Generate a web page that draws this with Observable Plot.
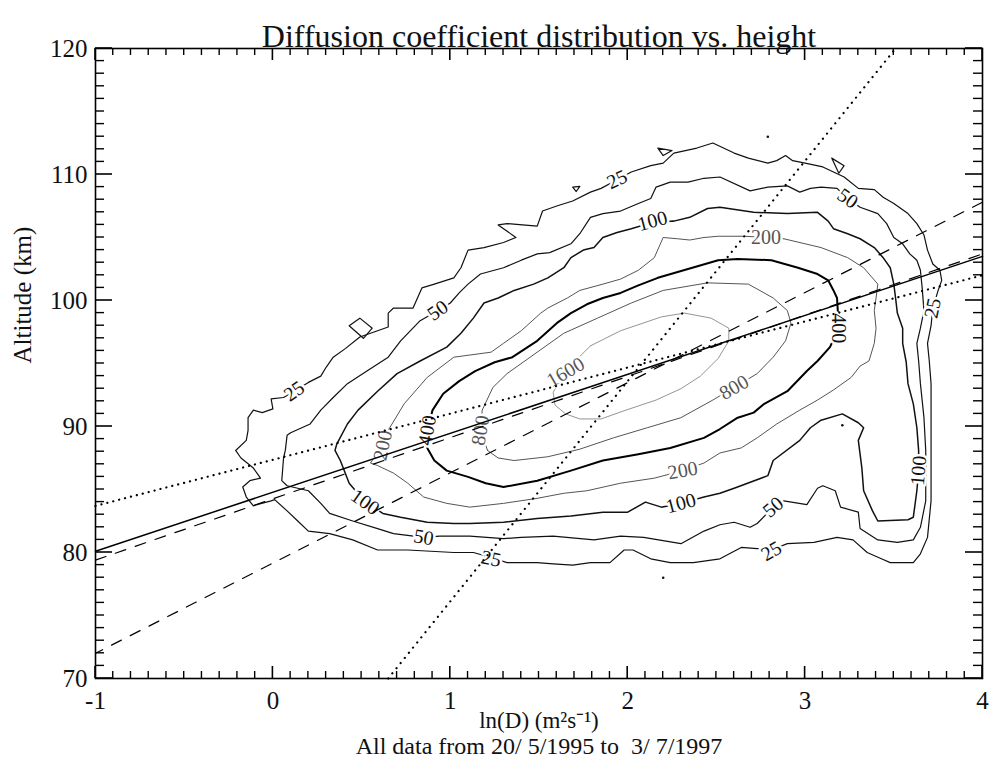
<!DOCTYPE html>
<html><head><meta charset="utf-8">
<script src="https://cdn.jsdelivr.net/npm/d3@7"></script>
<script src="https://cdn.jsdelivr.net/npm/@observablehq/plot@0.6"></script>
<style>body{margin:0;background:#fff}</style>
</head><body><div id="chart"></div>
<script>
// ---- axis ticks ----
const majorX = [-1, 0, 1, 2, 3, 4];
const majorY = [70, 80, 90, 100, 110, 120];
const minorX = d3.range(-10, 41).map(i => i / 10).filter(v => !majorX.includes(v));
const minorY = d3.range(70, 121).filter(v => !majorY.includes(v));

// ---- contour lines (x = ln D, y = altitude km) ----
const c25 = [[0.20,93.5],[0.27,94.0],[0.30,94.7],[0.34,95.5],[0.41,96.2],[0.49,97.1],[0.59,97.6],[0.65,97.9],[0.65,99.0],[0.68,99.4],[0.79,99.4],[0.84,101.0],[0.91,101.3],[1.02,101.8],[1.06,102.6],[1.10,104.0],[1.19,104.2],[1.30,104.6],[1.37,105.0],[1.27,106.0],[1.32,106.1],[1.49,105.9],[1.52,107.1],[1.60,107.5],[1.69,107.9],[1.79,108.6],[1.85,108.9],[1.93,109.5],[2.02,110.2],[2.13,110.7],[2.20,110.9],[2.26,111.7],[2.39,112.1],[2.48,112.5],[2.60,111.7],[2.68,111.3],[2.79,110.9],[2.84,111.1],[2.89,111.5],[2.93,111.1],[3.00,110.9],[3.10,110.6],[3.22,109.8],[3.30,108.9],[3.39,108.8],[3.44,108.2],[3.50,107.7],[3.58,106.9],[3.63,106.1],[3.67,105.2],[3.69,104.0],[3.72,102.9],[3.76,102.4],[3.77,101.6],[3.75,100.8],[3.72,99.4],[3.71,98.0],[3.69,96.6],[3.70,95.2],[3.71,93.4],[3.71,90.7],[3.71,88.1],[3.71,84.1],[3.69,81.2],[3.65,79.9],[3.61,79.2],[3.48,79.2],[3.43,79.5],[3.35,80.0],[3.27,81.0],[3.18,81.2],[3.05,80.8],[2.90,80.7],[2.81,80.2],[2.73,80.3],[2.64,80.4],[2.52,79.5],[2.37,79.2],[2.24,79.2],[2.13,79.5],[2.03,80.2],[1.98,80.2],[1.90,79.2],[1.79,79.2],[1.69,79.0],[1.58,79.1],[1.49,79.2],[1.32,79.2],[1.23,79.6],[1.13,80.0],[1.02,80.0],[0.76,80.2],[0.59,80.2],[0.45,81.0],[0.32,81.5],[0.20,81.7],[0.14,82.5],[0.08,83.3],[0.01,84.2],[-0.01,84.1],[-0.09,83.8],[-0.11,83.7],[-0.15,84.4],[-0.17,85.2],[-0.13,85.7],[-0.07,85.9],[-0.11,86.7],[-0.18,87.5],[-0.21,88.1],[-0.15,88.9],[-0.14,89.7],[-0.14,90.7],[-0.11,91.3],[-0.06,91.1],[0.00,91.4],[-0.01,92.2],[0.06,92.3],[0.12,92.8]];
const c25islands = [
  [[0.43,98.0],[0.49,98.6],[0.56,97.8],[0.51,97.0]],
  [[1.69,109.0],[1.73,109.05],[1.71,108.65]],
  [[2.17,112.1],[2.25,111.9],[2.20,111.5]],
  [[3.15,111.3],[3.22,110.7],[3.19,110.1]]
];
const c50 = [[1.00,99.8],[1.05,100.6],[1.10,101.3],[1.17,102.1],[1.30,102.6],[1.40,103.2],[1.49,103.7],[1.56,103.8],[1.68,104.5],[1.73,105.3],[1.79,106.6],[1.86,106.9],[1.96,107.1],[2.06,107.7],[2.13,108.1],[2.16,109.0],[2.24,109.4],[2.34,109.4],[2.43,109.7],[2.52,109.8],[2.69,108.7],[2.79,109.0],[2.90,109.1],[2.97,108.6],[3.03,108.9],[3.09,109.0],[3.18,108.9],[3.24,108.1],[3.31,107.4],[3.41,106.9],[3.46,106.1],[3.50,105.0],[3.55,104.5],[3.59,103.7],[3.63,103.2],[3.65,102.4],[3.66,101.0],[3.67,99.2],[3.65,97.8],[3.63,96.6],[3.64,95.2],[3.65,93.4],[3.67,90.7],[3.68,88.1],[3.68,84.1],[3.65,82.0],[3.61,81.0],[3.52,80.8],[3.41,81.0],[3.31,81.9],[3.30,83.2],[3.20,83.6],[3.17,84.9],[3.10,85.3],[3.07,85.1],[3.01,83.8],[2.88,84.1],[2.82,83.6],[2.73,82.3],[2.69,82.0],[2.60,82.4],[2.52,82.2],[2.43,81.7],[2.30,80.7],[2.09,81.2],[1.96,81.3],[1.81,81.0],[1.58,81.3],[1.40,81.2],[1.30,81.1],[1.11,81.3],[0.94,81.3],[0.85,81.2],[0.68,81.5],[0.59,81.9],[0.45,82.5],[0.32,83.1],[0.27,83.9],[0.20,84.9],[0.08,85.3],[0.05,85.7],[0.06,87.5],[0.07,88.1],[0.08,89.3],[0.10,89.5],[0.21,90.2],[0.27,91.3],[0.34,92.3],[0.42,93.4],[0.53,94.4],[0.65,95.5],[0.72,96.8],[0.83,98.4],[0.93,99.2]];
const c100 = [[2.26,106.3],[2.35,106.6],[2.45,107.3],[2.52,107.4],[2.71,107.0],[2.90,106.9],[3.07,107.0],[3.13,106.3],[3.16,105.7],[3.24,105.3],[3.31,104.9],[3.39,104.2],[3.44,103.4],[3.48,102.6],[3.50,101.3],[3.51,100.2],[3.52,99.0],[3.55,97.8],[3.55,96.6],[3.57,95.1],[3.58,93.4],[3.61,91.8],[3.63,89.9],[3.64,88.1],[3.64,86.5],[3.63,84.9],[3.61,82.8],[3.58,82.6],[3.41,82.5],[3.38,83.3],[3.33,84.9],[3.32,86.7],[3.30,88.9],[3.33,89.9],[3.30,90.3],[3.21,91.0],[3.09,90.5],[3.03,89.9],[2.97,88.9],[2.82,87.3],[2.79,86.1],[2.60,85.1],[2.52,84.7],[2.43,84.4],[2.30,83.9],[2.19,83.6],[2.10,84.0],[2.00,83.2],[1.86,83.2],[1.68,82.9],[1.49,82.7],[1.30,82.4],[1.11,82.3],[1.02,82.3],[0.87,82.4],[0.72,82.8],[0.62,83.1],[0.52,84.0],[0.43,85.5],[0.38,87.3],[0.35,88.1],[0.36,88.6],[0.42,90.2],[0.48,91.3],[0.59,92.8],[0.70,94.2],[0.83,95.2],[0.98,96.3],[1.06,97.4],[1.13,98.6],[1.19,99.8],[1.27,100.2],[1.36,100.8],[1.47,101.3],[1.55,101.8],[1.64,102.6],[1.68,103.4],[1.75,104.0],[1.81,104.2],[1.86,105.0],[1.94,105.4],[2.02,105.7],[2.14,106.2]];
const c200 = [[2.88,104.9],[3.09,104.2],[3.24,103.4],[3.33,102.6],[3.41,101.3],[3.40,100.2],[3.39,99.2],[3.40,97.8],[3.39,96.6],[3.36,95.2],[3.31,94.8],[3.26,93.9],[3.16,92.9],[3.07,92.1],[2.97,91.3],[2.84,90.2],[2.73,89.1],[2.64,88.3],[2.52,87.9],[2.43,87.1],[2.31,86.5],[2.15,85.9],[1.96,85.5],[1.77,84.9],[1.64,84.7],[1.49,84.3],[1.30,83.9],[1.11,83.6],[0.98,83.9],[0.85,84.4],[0.76,85.5],[0.68,86.3],[0.59,86.9],[0.55,87.1],[0.62,88.5],[0.65,89.7],[0.74,91.8],[0.87,93.9],[1.02,95.5],[1.23,95.9],[1.30,96.6],[1.40,97.6],[1.51,99.0],[1.55,99.4],[1.66,100.2],[1.73,100.8],[1.86,101.3],[1.96,101.7],[2.06,102.4],[2.15,103.4],[2.20,105.0],[2.28,104.9],[2.35,104.8],[2.43,105.0],[2.51,105.1],[2.66,105.1],[2.78,105.0]];
const c400 = [[0.87,88.3],[0.91,87.3],[0.98,86.5],[1.10,86.0],[1.20,85.5],[1.30,85.2],[1.49,85.7],[1.68,86.5],[1.86,87.3],[2.06,87.8],[2.24,88.3],[2.43,89.1],[2.52,89.8],[2.62,90.7],[2.71,91.1],[2.77,91.8],[2.90,92.8],[3.01,94.4],[3.07,95.2],[3.14,96.3],[3.19,97.8],[3.18,100.2],[3.16,100.8],[3.13,101.6],[3.07,102.1],[2.96,102.6],[2.81,103.2],[2.62,103.3],[2.51,103.2],[2.34,102.5],[2.17,101.8],[2.06,101.2],[1.96,100.6],[1.86,100.2],[1.77,99.7],[1.68,99.0],[1.60,98.2],[1.49,96.8],[1.35,95.5],[1.25,95.1],[1.14,94.4],[1.05,93.6],[0.96,92.6],[0.90,91.3],[0.87,89.7]];
const c800 = [[1.21,88.1],[1.27,87.5],[1.36,87.3],[1.55,87.6],[1.73,88.2],[1.92,89.1],[2.11,89.9],[2.30,90.7],[2.48,92.1],[2.60,93.1],[2.73,94.2],[2.82,95.5],[2.89,96.8],[2.92,98.2],[2.90,99.2],[2.82,100.2],[2.68,101.3],[2.45,101.4],[2.20,100.8],[2.02,99.8],[1.83,98.6],[1.64,97.4],[1.45,95.5],[1.32,94.2],[1.24,93.1],[1.18,91.3],[1.17,89.7]];
const c1600 = [[1.79,96.4],[1.96,97.6],[2.19,98.7],[2.32,99.0],[2.47,98.6],[2.57,97.8],[2.57,96.8],[2.51,95.4],[2.41,94.0],[2.30,93.0],[2.16,92.1],[1.99,91.3],[1.85,90.6],[1.73,90.6],[1.65,91.0],[1.59,91.7],[1.58,92.7],[1.64,94.3]];
const strayDots = [[2.79,113.0],[2.20,78.0],[3.21,90.1]];

// ---- contour labels: [text, x, y, angle] ----
const contourLabels = [
  ["25",0.12,92.8,-35],["25",1.94,109.6,-25],["25",3.72,99.4,-78],["25",2.81,80.1,-30],["25",1.23,79.5,12],
  ["50",0.93,99.2,-35],["50",3.24,108.1,35],["50",2.82,83.6,-40],["50",0.85,81.2,10],
  ["100",2.14,106.3,-15],["100",3.64,86.5,-85],["100",2.30,83.9,-15],["100",0.52,84.0,35],
  ["200",2.78,105.0,0],["200",0.62,88.5,-78],["200",2.31,86.5,-10],
  ["400",0.87,89.7,-80],["400",3.19,97.8,90],
  ["800",1.17,89.7,-80],["800",2.60,93.1,-30],
  ["1600",1.65,94.3,-30]
];

// ---- regression lines ----
const solidFit = [[-1,80.1],[4,103.5]];
const dottedFitShallow = [[-1,83.7],[4,102.0]];
const dottedFitSteep = [[0.65,70],[3.51,120]];
const dashedFitA = [[-1,79.4],[4,103.7]];
const dashedFitB = [[-1,72.0],[4,107.8]];

const styleOf = {
  25:{stroke:"#111",w:1.2}, 50:{stroke:"#111",w:1.2}, 100:{stroke:"#111",w:1.5},
  200:{stroke:"#555",w:1.0}, 400:{stroke:"#000",w:2.0}, 800:{stroke:"#555",w:1.0}, 1600:{stroke:"#888",w:0.9}
};
const closed = a => [...a, a[0]];
const contourSets = [[25,c25],[50,c50],[100,c100],[200,c200],[400,c400],[800,c800],[1600,c1600]];
const labelRows = contourLabels.map(([t,x,y,a]) => ({t,x,y,a,gray: ["200","800","1600"].includes(t)}));
const font = "Liberation Serif, Times New Roman, serif";

const W = 992, H = 766, mT = 48, mB = 88, mL = 95, mR = 10;
const xDom = [-1, 4], yDom = [70, 120];

const marks = [];
contourSets.forEach(([lev, pts]) => {
  marks.push(Plot.line(closed(pts), {stroke: styleOf[lev].stroke, strokeWidth: styleOf[lev].w, strokeLinejoin:"round"}));
});
c25islands.forEach(pts => marks.push(Plot.line(closed(pts), {stroke:"#111", strokeWidth:1.2})));
marks.push(Plot.dot(strayDots, {r:1.3, fill:"#111", stroke:null}));
marks.push(
  Plot.text(labelRows, {x:"x", y:"y", text:"t", rotate:"a", fontSize:20, fontFamily:font,
    fill: d => d.gray ? "#555" : "#111", stroke:"white", strokeWidth:5, paintOrder:"stroke"}),
  Plot.line(solidFit, {stroke:"#000", strokeWidth:1.5}),
  Plot.line(dottedFitShallow, {stroke:"#000", strokeWidth:2.2, strokeDasharray:"0.1,6", strokeLinecap:"round"}),
  Plot.line(dottedFitSteep, {stroke:"#000", strokeWidth:2.2, strokeDasharray:"0.1,6.5", strokeLinecap:"round"}),
  Plot.line(dashedFitA, {stroke:"#000", strokeWidth:1.2, strokeDasharray:"11,10"}),
  Plot.line(dashedFitB, {stroke:"#000", strokeWidth:1.2, strokeDasharray:"11,10", strokeDashoffset:-18}),
  // tick labels
  Plot.axisX(majorX, {anchor:"bottom", tickSize:0, tickPadding:13, fontSize:25, fontFamily:font, tickFormat:d=>String(d), label:null}),
  Plot.axisY(majorY, {anchor:"left", tickSize:0, tickPadding:8, fontSize:25, fontFamily:font, tickFormat:d=>String(d), label:null}),
  Plot.frame({stroke:"#000", strokeWidth:1.6}),
  // titles
  Plot.text(["Diffusion coefficient distribution vs. height"], {frameAnchor:"top", dy:-24, fontSize:32, fontFamily:font, fill:"#111"}),
  Plot.text(["ln(D) (m²s⁻¹)"], {frameAnchor:"bottom", dy:49, fontSize:23, fontFamily:font, fill:"#111"}),
  Plot.text(["All data from 20/ 5/1995 to  3/ 7/1997"], {frameAnchor:"bottom", dy:75, fontSize:24, fontFamily:font, fill:"#111"}),
  Plot.text(["Altitude (km)"], {frameAnchor:"left", dx:-73, rotate:-90, fontSize:25, fontFamily:font, fill:"#111"})
);

const chart = Plot.plot({
  width: W, height: H,
  marginTop: mT, marginBottom: mB, marginLeft: mL, marginRight: mR,
  x: {domain: xDom, label: null},
  y: {domain: yDom, label: null},
  style: {background: "white", fontFamily: font, overflow: "visible", color: "#111"},
  marks
});

// inward tick stubs on all four sides, placed with Plot's own x and y scales
const sx = chart.scale("x"), sy = chart.scale("y");
const px = v => sx.apply(v), py = v => sy.apply(v);
const bottomPx = py(yDom[0]), topPx = py(yDom[1]), leftPx = px(xDom[0]), rightPx = px(xDom[1]);
const g = d3.select(chart).append("g").attr("stroke", "#000").attr("fill", "none");
const addXTicks = (vals, len, w) => vals.forEach(v => {
  g.append("line").attr("x1", px(v)).attr("x2", px(v)).attr("y1", bottomPx).attr("y2", bottomPx - len).attr("stroke-width", w);
  g.append("line").attr("x1", px(v)).attr("x2", px(v)).attr("y1", topPx).attr("y2", topPx + len).attr("stroke-width", w);
});
const addYTicks = (vals, len, w) => vals.forEach(v => {
  g.append("line").attr("y1", py(v)).attr("y2", py(v)).attr("x1", leftPx).attr("x2", leftPx + len).attr("stroke-width", w);
  g.append("line").attr("y1", py(v)).attr("y2", py(v)).attr("x1", rightPx).attr("x2", rightPx - len).attr("stroke-width", w);
});
addXTicks(majorX, 12, 1.6); addXTicks(minorX, 7, 1.4);
addYTicks(majorY, 17, 1.6); addYTicks(minorY, 9, 1.4);

document.getElementById("chart").appendChild(chart);
</script>
</body></html>
